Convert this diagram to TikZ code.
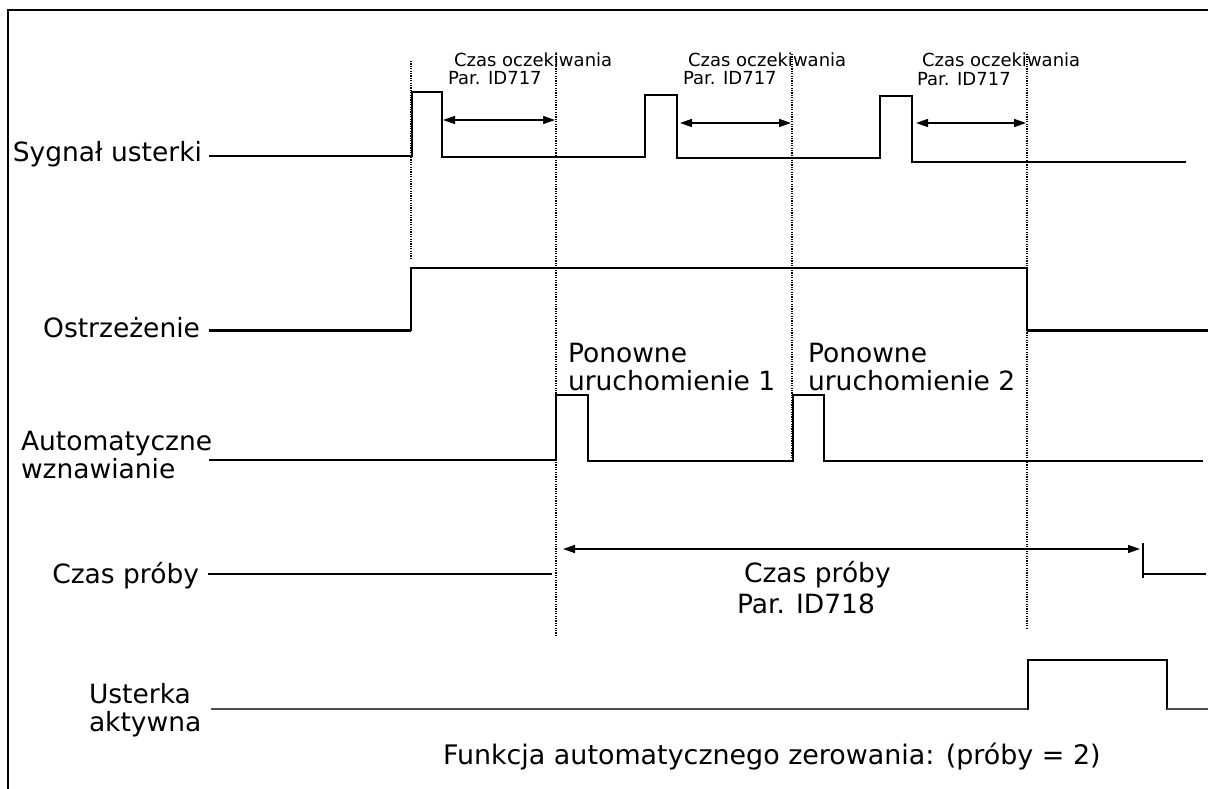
\documentclass[tikz,border=0pt]{standalone}
\usepackage{fontspec}
\setmainfont{DejaVu Sans}
\usetikzlibrary{arrows.meta}
\tikzset{
  frame/.style={line width=1.4pt},
  sig/.style={line width=1.5pt, line join=miter},
  thicksig/.style={line width=3pt},
  graysig/.style={line width=2pt, black!70},
  vdot/.style={line width=1.2pt, dash pattern=on 1.2pt off 1.2pt},
  dim/.style={line width=1.5pt, {Triangle[length=12pt,width=8pt]}-{Triangle[length=12pt,width=8pt]}},
  big/.style={font=\fontsize{26.5}{27}\selectfont, inner sep=0pt, outer sep=0pt},
  bottomtext/.style={font=\fontsize{26.9}{27}\selectfont, inner sep=0pt, outer sep=0pt},
  small/.style={font=\fontsize{18}{18}\selectfont, inner sep=0pt, outer sep=0pt},
}
\newcommand{\twol}[2]{\begin{tabular}[t]{@{}l@{}}#1\\#2\end{tabular}}
\begin{document}
\begin{tikzpicture}[x=1pt,y=-1pt]
\useasboundingbox (0,0) rectangle (1208,789);
% frame
\draw[frame] (8,789) -- (8,10) -- (1208,10);

% dotted verticals
\coordinate (v1t) at (411,61);  \coordinate (v1b) at (411,259);
\coordinate (v2t) at (556,54);  \coordinate (v2b) at (556,637);
\coordinate (v3t) at (792,54);  \coordinate (v3b) at (792,460);
\coordinate (v4t) at (1027,54); \coordinate (v4b) at (1027,628);
\draw[vdot] (v1t) -- (v1b);
\draw[vdot] (v2t) -- (v2b);
\draw[vdot] (v3t) -- (v3b);
\draw[vdot] (v4t) -- (v4b);

% labels
\node[big, anchor=base east] (lsyg) at (202,162) {Sygnał usterki};
\node[big, anchor=base east] (lost) at (200,337) {Ostrzeżenie};
\node[big, anchor=base west] (laut) at (21,450) {\twol{Automatyczne}{wznawianie}};
\node[big, anchor=base east] (lczp) at (199,583) {Czas próby};
\node[big, anchor=base west] (lust) at (89,703) {\twol{Usterka}{aktywna}};

% Sygnal usterki
\draw[sig] (209,156) -- (412,156) -- (412,92) -- (442,92) -- (442,157) -- (645,157)
  -- (645,95) -- (677,95) -- (677,158) -- (880,158) -- (880,96) -- (912,96)
  -- (912,162) -- (1186,162);

% waiting time arrows
\coordinate (w1a) at (443,120); \coordinate (w1b) at (555,120);
\coordinate (w2a) at (680,123); \coordinate (w2b) at (791,123);
\coordinate (w3a) at (916,123); \coordinate (w3b) at (1026,123);
\draw[dim] (w1a) -- (w1b);
\draw[dim] (w2a) -- (w2b);
\draw[dim] (w3a) -- (w3b);
\node[small, anchor=base west] (t1) at (448,67) {\hspace*{6pt}Czas oczekiwania};
\node[small, anchor=base west] (p1) at (448,85) {Par. ID717};
\node[small, anchor=base west] (t2) at (683,67) {\hspace*{5pt}Czas oczekiwania};
\node[small, anchor=base west] (p2) at (683,85) {Par. ID717};
\node[small, anchor=base west] (t3) at (917,67) {\hspace*{5pt}Czas oczekiwania};
\node[small, anchor=base west] (p3) at (917,86) {Par. ID717};

% Ostrzezenie
\draw[thicksig] (209,330) -- (411,330);
\draw[sig] (411,331) -- (411,268) -- (1027,268) -- (1027,331);
\draw[thicksig] (1027,330) -- (1208,330);

% Automatyczne wznawianie
\draw[sig] (209,460) -- (556,460) -- (556,395) -- (588,395) -- (588,461) -- (793,461)
  -- (793,395) -- (824,395) -- (824,461) -- (1203,461);
\node[big, anchor=base west] (r1) at (568,362) {\twol{Ponowne}{uruchomienie 1}};
\node[big, anchor=base west] (r2) at (808,362) {\twol{Ponowne}{uruchomienie 2}};

% Czas proby
\draw[sig] (208,574) -- (552,574);
\coordinate (pa) at (563,549); \coordinate (pb) at (1140,549);
\draw[dim] (pa) -- (pb);
\draw[sig] (1143,543) -- (1143,578);
\draw[sig] (1143,574) -- (1206,574);
\node[big, anchor=base west] (cp) at (744,582) {Czas próby};
\node[big, anchor=base west] (pp) at (737,613) {Par. ID718};

% Usterka aktywna
\draw[graysig] (211,709) -- (1028,709);
\draw[sig] (1028,710) -- (1028,660) -- (1167,660) -- (1167,710);
\draw[graysig] (1167,709) -- (1208,709);

\node[bottomtext, anchor=base west] (fn) at (443,764) {Funkcja automatycznego zerowania: (próby = 2)};
\end{tikzpicture}
\end{document}
